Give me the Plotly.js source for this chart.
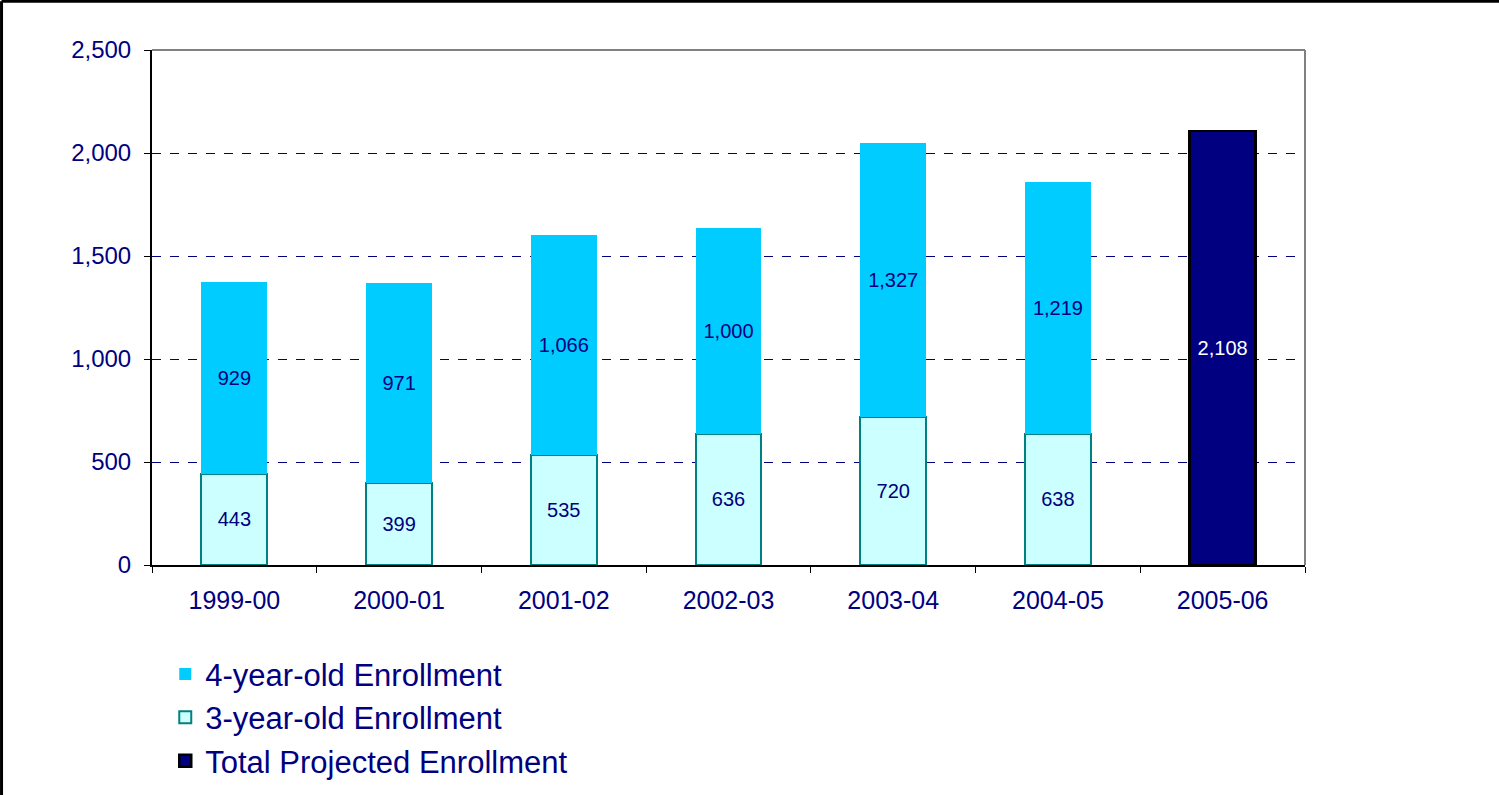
<!DOCTYPE html>
<html>
<head>
<meta charset="utf-8">
<script src="https://cdn.plot.ly/plotly-3.0.1.min.js"></script>
<style>html,body{margin:0;padding:0;background:#fff;}#chart{width:1499px;height:795px;}</style>
</head>
<body>
<div id="chart"></div>
<script>
const years = ['1999-00','2000-01','2001-02','2002-03','2003-04','2004-05','2005-06'];
const histYears = ['1999-00','2000-01','2001-02','2002-03','2003-04','2004-05'];
const threeYear = [443, 399, 535, 636, 720, 638];
const fourYear = [929, 971, 1066, 1000, 1327, 1219];
const projYears = ['2005-06'];
const projected = [2108];
const yTicks = [0, 500, 1000, 1500, 2000, 2500];

const navy = '#000080';
const font = 'Liberation Sans, Arial, sans-serif';

const traces = [
  {
    type: 'bar', name: '3-year-old Enrollment', x: histYears, y: threeYear,
    marker: {color: '#CCFFFF', line: {color: '#008080', width: 2}},
    texttemplate: '%{y:,}', textposition: 'inside', insidetextanchor: 'middle', textangle: 0,
    insidetextfont: {color: navy, size: 20, family: font},
    legendrank: 2, legendgroup: 'b'
  },
  {
    type: 'bar', name: '4-year-old Enrollment', x: histYears, y: fourYear,
    marker: {color: '#00CCFF', line: {width: 0}},
    texttemplate: '%{y:,}', textposition: 'inside', insidetextanchor: 'middle', textangle: 0,
    insidetextfont: {color: navy, size: 20, family: font},
    legendrank: 1, legendgroup: 'a'
  },
  {
    type: 'bar', name: 'Total Projected Enrollment', x: projYears, y: projected,
    marker: {color: navy, line: {color: '#000000', width: 2.5}},
    texttemplate: '%{y:,}', textposition: 'inside', insidetextanchor: 'middle', textangle: 0,
    insidetextfont: {color: '#ffffff', size: 20, family: font},
    legendrank: 3, legendgroup: 'c'
  }
];

const layout = {
  width: 1499, height: 795,
  margin: {l: 152, r: 194, t: 50, b: 230, autoexpand: false},
  paper_bgcolor: '#fff', plot_bgcolor: '#fff',
  barmode: 'stack', bargap: 0.6,
  font: {family: font, color: navy},
  xaxis: {
    type: 'category', categoryorder: 'array', categoryarray: years,
    showline: true, linecolor: '#000', linewidth: 2,
    ticks: 'outside', tickson: 'boundaries', ticklen: 6, tickcolor: '#000', tickwidth: 1,
    tickfont: {size: 25, color: navy, family: font},
    ticklabelstandoff: 12,
    showgrid: false, fixedrange: true
  },
  yaxis: {
    range: [0, 2500], tickvals: yTicks, tickformat: ',d',
    showline: true, linecolor: '#000', linewidth: 2,
    ticks: 'outside', ticklen: 6, tickcolor: '#000', tickwidth: 1,
    tickfont: {size: 24, color: navy, family: font},
    ticklabelstandoff: 8,
    showgrid: true, gridcolor: navy, gridwidth: 1, griddash: 'dash',
    zeroline: false, fixedrange: true
  },
  showlegend: true,
  legend: {
    x: 0.0115, y: -0.16, xanchor: 'left', yanchor: 'top',
    orientation: 'v', traceorder: 'normal', tracegroupgap: 11,
    font: {size: 31, color: navy, family: font},
    bgcolor: 'rgba(0,0,0,0)'
  },
  shapes: [
    {type: 'line', xref: 'paper', yref: 'paper', x0: 0, x1: 1, y0: 1, y1: 1, line: {color: '#808080', width: 2}},
    {type: 'line', xref: 'paper', yref: 'paper', x0: 1, x1: 1, y0: 0, y1: 1, line: {color: '#808080', width: 2}},
    {type: 'line', xref: 'paper', yref: 'paper', x0: -0.1305, x1: -0.1305, y0: -0.45, y1: 1.0945, line: {color: '#000', width: 3}},
    {type: 'line', xref: 'paper', yref: 'paper', x0: -0.1305, x1: 1.17, y0: 1.0945, y1: 1.0945, line: {color: '#000', width: 3}}
  ]
};

Plotly.newPlot('chart', traces, layout, {displayModeBar: false, staticPlot: true});
</script>
</body>
</html>
